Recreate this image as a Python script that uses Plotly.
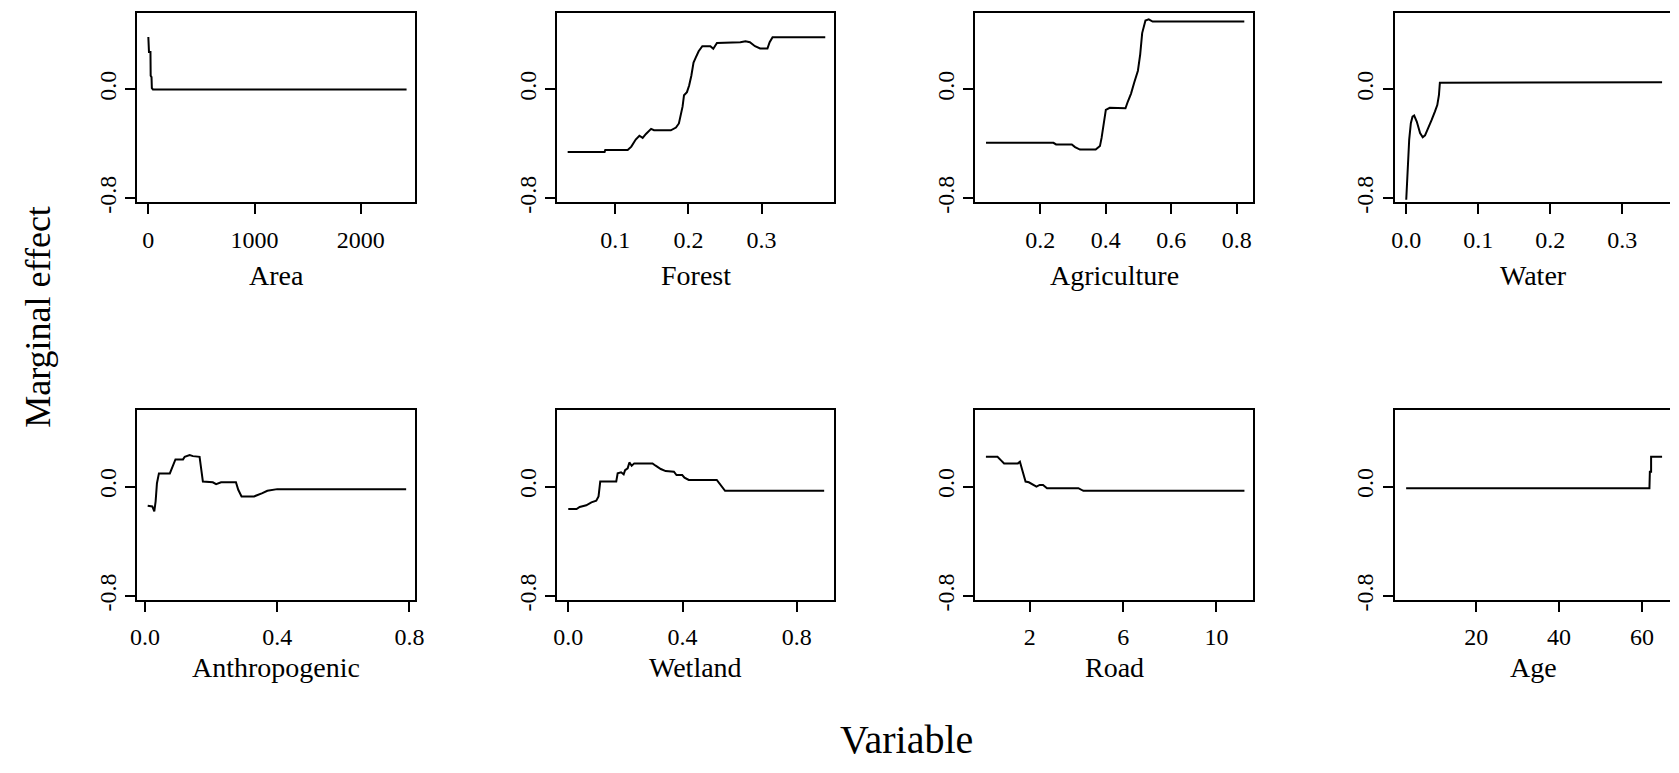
import plotly.graph_objects as go

# ---------------- data ----------------
area_x = [0, 0, 6, 6, 20, 22, 30, 33, 43, 2430]
area_y = [0.385, 0.293, 0.29, 0.275, 0.275, 0.10, 0.09, 0.01, 0.0, 0.0]

forest_x = [0.035, 0.0855, 0.0864, 0.117, 0.122, 0.128, 0.133, 0.1375, 0.142, 0.149, 0.153, 0.176,
            0.183, 0.187, 0.192, 0.194, 0.198, 0.201, 0.204, 0.207, 0.210, 0.214, 0.219, 0.230,
            0.234, 0.239, 0.271, 0.278, 0.284, 0.291, 0.298, 0.308, 0.311, 0.315, 0.387]
forest_y = [-0.459, -0.459, -0.445, -0.445, -0.42, -0.368, -0.34, -0.356, -0.327, -0.29, -0.30, -0.30,
            -0.28, -0.25, -0.127, -0.043, -0.02, 0.029, 0.10, 0.197, 0.233, 0.28, 0.317, 0.317,
            0.298, 0.341, 0.346, 0.353, 0.346, 0.317, 0.30, 0.30, 0.346, 0.382, 0.382]

agri_x = [0.034, 0.240, 0.248, 0.296, 0.306, 0.321, 0.369, 0.382, 0.387, 0.394, 0.400, 0.412,
          0.460, 0.467, 0.477, 0.487, 0.498, 0.505, 0.511, 0.521, 0.531, 0.543, 0.823]
agri_y = [-0.392, -0.392, -0.404, -0.404, -0.423, -0.442, -0.442, -0.416, -0.356, -0.236, -0.151, -0.135,
          -0.139, -0.091, -0.031, 0.053, 0.137, 0.257, 0.413, 0.505, 0.514, 0.498, 0.498]

water_x = [0.0, 0.0009, 0.0022, 0.0041, 0.0064, 0.0087, 0.011, 0.0146, 0.0192, 0.0229, 0.0261,
           0.0307, 0.0353, 0.0398, 0.0431, 0.0454, 0.0467, 0.3553]
water_y = [-0.81, -0.692, -0.524, -0.368, -0.248, -0.2, -0.192, -0.236, -0.32, -0.351, -0.337,
           -0.284, -0.224, -0.163, -0.115, -0.043, 0.048, 0.053]

anthro_x = [0.008, 0.022, 0.028, 0.032, 0.036, 0.042, 0.075, 0.082, 0.092, 0.115, 0.12, 0.135,
            0.145, 0.165, 0.17, 0.175, 0.205, 0.215, 0.23, 0.275, 0.282, 0.292, 0.33, 0.34,
            0.355, 0.37, 0.4, 0.79]
anthro_y = [-0.14, -0.145, -0.181, -0.108, 0.024, 0.096, 0.096, 0.133, 0.198, 0.198, 0.217, 0.229,
            0.222, 0.217, 0.108, 0.036, 0.031, 0.017, 0.031, 0.031, -0.024, -0.072, -0.072, -0.06,
            -0.048, -0.031, -0.019, -0.019]

wet_x = [0.0, 0.029, 0.040, 0.063, 0.081, 0.098, 0.106, 0.112, 0.168, 0.173, 0.185, 0.194, 0.199,
         0.208, 0.214, 0.222, 0.231, 0.295, 0.306, 0.324, 0.341, 0.370, 0.379, 0.399, 0.407, 0.422,
         0.520, 0.532, 0.549, 0.896]
wet_y = [-0.164, -0.164, -0.149, -0.137, -0.116, -0.104, -0.072, 0.036, 0.036, 0.096, 0.104, 0.089,
         0.12, 0.133, 0.176, 0.152, 0.169, 0.169, 0.152, 0.128, 0.113, 0.108, 0.084, 0.084, 0.065,
         0.048, 0.048, 0.012, -0.031, -0.031]

road_x = [0.116, 0.612, 0.753, 0.895, 1.489, 1.574, 1.673, 1.744, 1.815, 1.956, 2.098, 2.282,
          2.423, 2.565, 2.735, 4.079, 4.292, 11.20]
road_y = [0.217, 0.217, 0.193, 0.169, 0.169, 0.181, 0.12, 0.072, 0.036, 0.031, 0.017, 0.0,
          0.012, 0.012, -0.012, -0.012, -0.031, -0.031]

age_x = [3.1, 61.8, 61.9, 62.2, 62.2, 64.85]
age_y = [-0.012, -0.012, 0.108, 0.108, 0.217, 0.217]

variables = ["Area", "Forest", "Agriculture", "Water",
             "Anthropogenic", "Wetland", "Road", "Age"]
series_x = [area_x, forest_x, agri_x, water_x, anthro_x, wet_x, road_x, age_x]
series_y = [area_y, forest_y, agri_y, water_y, anthro_y, wet_y, road_y, age_y]

x_tickvals = [[0, 1000, 2000], [0.1, 0.2, 0.3], [0.2, 0.4, 0.6, 0.8], [0.0, 0.1, 0.2, 0.3],
              [0.0, 0.4, 0.8], [0.0, 0.4, 0.8], [2, 6, 10], [20, 40, 60]]
x_ticktext = [["0", "1000", "2000"], ["0.1", "0.2", "0.3"], ["0.2", "0.4", "0.6", "0.8"],
              ["0.0", "0.1", "0.2", "0.3"], ["0.0", "0.4", "0.8"], ["0.0", "0.4", "0.8"],
              ["2", "6", "10"], ["20", "40", "60"]]
y_tickvals = [-0.8, 0.0]
y_ticktext = ["-0.8", "0.0"]

# ---------------- layout geometry ----------------
W, H = 1679, 773
x_ranges = [[-102.5, 2510], [0.021, 0.399], [0.0015, 0.8505], [-0.0161, 0.3663],
            [-0.023, 0.817], [-0.038, 0.9306], [-0.336, 11.58], [0.33, 66.76]]
y_range = [-0.825, 0.562]
col_px = [(131.7, 412.0), (555.7, 835.0), (977.7, 1258.3), (1401.0, 1679.0)]
col_center_px = [271.9, 695.4, 1118.0, 1541.0]
row_px = [(13.0, 205.0), (416.0, 609.0)]
title_mid_px = [280.0, 678.0]

FONT = "Liberation Serif, Times New Roman, serif"

fig = go.Figure()
layout = dict(
    width=W, height=H,
    margin=dict(l=0, r=0, t=0, b=0),
    paper_bgcolor="white", plot_bgcolor="white",
    showlegend=False,
    font=dict(family=FONT, color="black", size=24),
)
annotations = []

for i in range(8):
    r, c = divmod(i, 4)
    n = "" if i == 0 else str(i + 1)
    fig.add_trace(go.Scatter(
        x=series_x[i], y=series_y[i], mode="lines",
        line=dict(color="black", width=2),
        xaxis="x" + n, yaxis="y" + n, hoverinfo="skip",
    ))
    x0, x1 = col_px[c]
    top, bot = row_px[r]
    layout["xaxis" + n] = dict(
        domain=[x0 / W, x1 / W], anchor="y" + n, range=x_ranges[i],
        showline=True, mirror=True, linecolor="black", linewidth=2,
        ticks="outside", ticklen=10, tickwidth=2, tickcolor="black",
        tickvals=x_tickvals[i], ticktext=x_ticktext[i], ticklabelstandoff=5,
        tickfont=dict(family=FONT, size=24, color="black"),
        showgrid=False, zeroline=False, fixedrange=True,
    )
    layout["yaxis" + n] = dict(
        domain=[1 - bot / H, 1 - top / H], anchor="x" + n, range=y_range,
        showline=True, mirror=(c != 3), linecolor="black", linewidth=2,
        ticks="outside", ticklen=10, tickwidth=2, tickcolor="black",
        tickvals=y_tickvals, ticktext=y_ticktext, tickangle=-90,
        tickfont=dict(family=FONT, size=24, color="black"),
        showgrid=False, zeroline=False, fixedrange=True,
    )
    annotations.append(dict(
        text=variables[i], xref="paper", yref="paper",
        x=col_center_px[c] / W, y=1 - title_mid_px[r] / H,
        xanchor="center", yanchor="middle", showarrow=False,
        font=dict(family=FONT, size=28, color="black"),
    ))

annotations.append(dict(
    text="Marginal effect", xref="paper", yref="paper",
    x=31 / W, y=1 - 322 / H, xanchor="center", yanchor="middle",
    textangle=-90, showarrow=False,
    font=dict(family=FONT, size=36, color="black"),
))
annotations.append(dict(
    text="Variable", xref="paper", yref="paper",
    x=908 / W, y=1 - 751 / H, xanchor="center", yanchor="middle",
    showarrow=False,
    font=dict(family=FONT, size=40, color="black"),
))
layout["annotations"] = annotations
fig.update_layout(**layout)
fig.write_html("out.html")
